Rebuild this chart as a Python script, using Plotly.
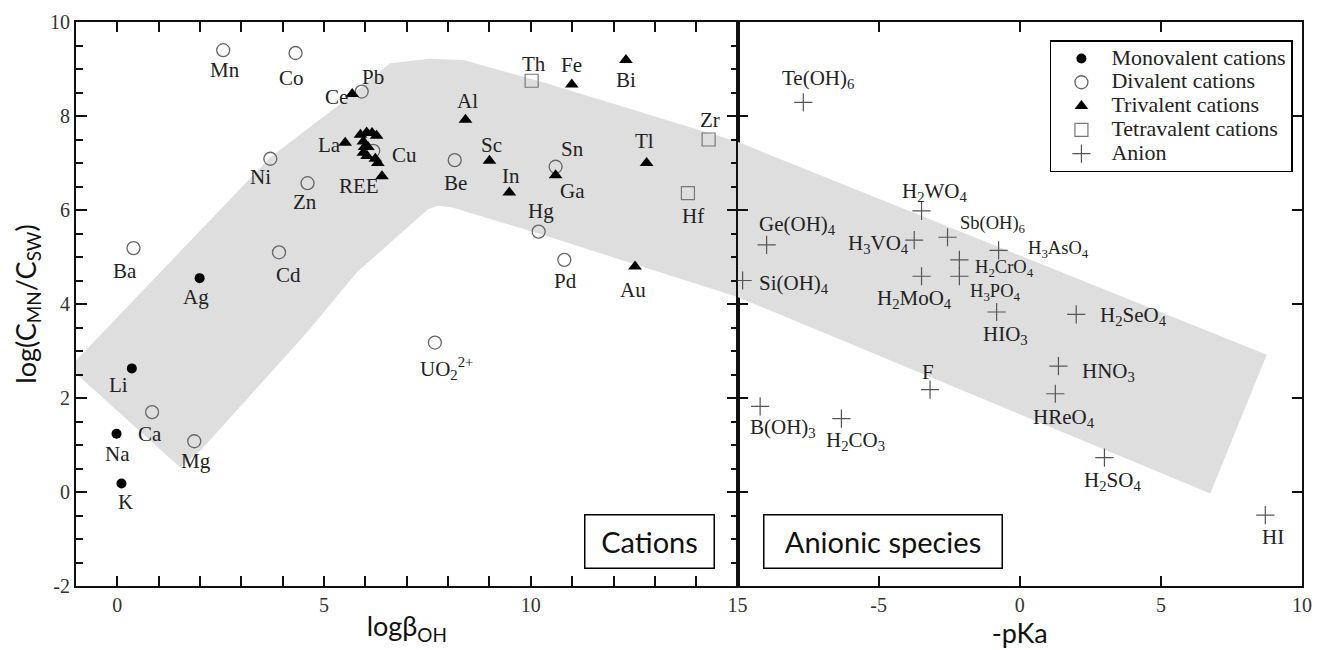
import plotly.graph_objects as go

# ---------------- data ----------------
MONO_NAMES = ["Ag", "Li", "Na", "K"]
MONO_X = [1.99, 0.35, -0.02, 0.10]
MONO_Y = [4.55, 2.63, 1.24, 0.18]

DI_NAMES = ["Mn", "Co", "Pb", "Ni", "Zn", "Ba", "Cd", "Cu", "Be", "Sn", "Hg", "Pd",
            "UO<sub>2</sub><sup>2+</sup>", "Ca", "Mg"]
DI_X = [2.56, 4.31, 5.91, 3.70, 4.60, 0.39, 3.91, 6.19, 8.16, 10.60, 10.19, 10.81, 7.68, 0.84, 1.86]
DI_Y = [9.40, 9.34, 8.52, 7.09, 6.57, 5.19, 5.10, 7.26, 7.06, 6.92, 5.54, 4.94, 3.18, 1.70, 1.08]

TRI_NAMES = ["Ce", "La", "", "", "", "", "", "", "", "", "", "", "", "REE",
             "Al", "Sc", "In", "Fe", "Bi", "Tl", "Ga", "Au"]
TRI_X = [5.68, 5.51, 5.88, 6.03, 6.16, 6.27, 5.95, 5.98, 6.06, 5.95, 6.04, 6.24, 6.30, 6.40,
         8.42, 9.00, 9.48, 10.99, 12.30, 12.80, 10.60, 12.52]
TRI_Y = [8.47, 7.43, 7.60, 7.65, 7.64, 7.58, 7.46, 7.34, 7.34, 7.22, 7.15, 7.09, 7.00, 6.72,
         7.92, 7.05, 6.37, 8.67, 9.19, 7.00, 6.74, 4.80]

TETRA_NAMES = ["Th", "Zr", "Hf"]
TETRA_X = [10.02, 14.30, 13.80]
TETRA_Y = [8.75, 7.50, 6.36]

ANION_NAMES = ["Te(OH)<sub>6</sub>", "H<sub>2</sub>WO<sub>4</sub>", "Ge(OH)<sub>4</sub>",
               "H<sub>3</sub>VO<sub>4</sub>", "Sb(OH)<sub>6</sub>", "H<sub>3</sub>AsO<sub>4</sub>",
               "H<sub>2</sub>CrO<sub>4</sub>", "H<sub>3</sub>PO<sub>4</sub>", "H<sub>2</sub>MoO<sub>4</sub>",
               "Si(OH)<sub>4</sub>", "HIO<sub>3</sub>", "H<sub>2</sub>SeO<sub>4</sub>", "HNO<sub>3</sub>",
               "F", "HReO<sub>4</sub>", "B(OH)<sub>3</sub>", "H<sub>2</sub>CO<sub>3</sub>",
               "H<sub>2</sub>SO<sub>4</sub>", "HI"]
ANION_X = [-7.67, -3.48, -8.97, -3.74, -2.56, -0.75, -2.14, -2.14, -3.48, -9.82, -0.82, 2.00,
           1.37, -3.18, 1.26, -9.20, -6.32, 3.00, 8.70]
ANION_Y = [8.29, 5.98, 5.26, 5.36, 5.42, 5.14, 4.94, 4.59, 4.59, 4.50, 3.83, 3.78,
           2.68, 2.18, 2.09, 1.82, 1.56, 0.73, -0.49]

# grey trend band (data coordinates of each panel)
BAND_LEFT_X = [-1.0, 3.70, 5.32, 6.60, 7.55, 8.37, 10.36, 15.0,
               15.0, 10.36, 8.12, 7.76, 7.52, 5.80, 4.60, 2.04, 1.52, -1.0]
BAND_LEFT_Y = [2.80, 7.12, 8.21, 9.12, 9.22, 9.19, 8.70, 7.45,
               4.15, 5.45, 6.05, 6.09, 6.02, 4.68, 3.41, 0.91, 0.52, 2.52]
BAND_RIGHT_X = [-10.0, 8.75, 6.75, -10.0]
BAND_RIGHT_Y = [7.45, 2.92, -0.03, 4.15]

Y_TICKS = [-2, 0, 2, 4, 6, 8, 10]
Y_TICK_TEXT = ["-2", "0", "2", "4", "6", "8", "10"]
X_TICKS = [0, 5, 10, 15]
X_TICK_TEXT = ["0", "5", "10", "15"]
X2_TICKS = [-5, 0, 5, 10]
X2_TICK_TEXT = ["-5", "0", "5", "10"]

LEGEND_NAMES = ["Monovalent cations", "Divalent cations", "Trivalent cations",
                "Tetravalent cations", "Anion"]

# ---------------- label placement (style): anchor, dx px (right), dy px (down) ----------------
PLACE = {
    "Ag": ("center", -4, 19), "Li": ("center", -13, 17), "Na": ("center", 1, 20), "K": ("center", 4, 18),
    "Mn": ("center", 2, 20), "Co": ("center", -4, 25), "Pb": ("center", 11, -15),
    "Ni": ("center", -10, 18), "Zn": ("center", -3, 19), "Ba": ("center", -8, 23),
    "Cd": ("center", 9, 23), "Cu": ("left", 17, 4), "Be": ("center", 1, 23), "Sn": ("center", 17, -18),
    "Hg": ("center", 2, -21), "Pd": ("center", 1, 21), "UO<sub>2</sub><sup>2+</sup>": ("center", 12, 26),
    "Ca": ("center", -2, 22), "Mg": ("center", 2, 20),
    "Ce": ("right", -2, 3), "La": ("right", -2, 2), "REE": ("center", -23, 10), "Al": ("center", 2, -19),
    "Sc": ("center", 2, -16), "In": ("center", 2, -17), "Fe": ("center", 0, -20), "Bi": ("center", 0, 20),
    "Tl": ("center", -2, -22), "Ga": ("center", 17, 16), "Au": ("center", -2, 24),
    "Th": ("center", 2, -17), "Zr": ("center", 1, -20), "Hf": ("center", 5, 23),
    "Te(OH)<sub>6</sub>": ("left", -23, -23), "H<sub>2</sub>WO<sub>4</sub>": ("left", -22, -19),
    "Ge(OH)<sub>4</sub>": ("left", -10, -20), "H<sub>3</sub>VO<sub>4</sub>": ("right", -3, 4),
    "Sb(OH)<sub>6</sub>": ("left", 10, -13), "H<sub>3</sub>AsO<sub>4</sub>": ("left", 27, -1),
    "H<sub>2</sub>CrO<sub>4</sub>": ("left", 14, 9), "H<sub>3</sub>PO<sub>4</sub>": ("left", 9, 16),
    "H<sub>2</sub>MoO<sub>4</sub>": ("left", -47, 23), "Si(OH)<sub>4</sub>": ("left", 14, 3),
    "HIO<sub>3</sub>": ("left", -16, 23), "H<sub>2</sub>SeO<sub>4</sub>": ("left", 22, 2),
    "HNO<sub>3</sub>": ("left", 22, 6), "F": ("center", -2, -18), "HReO<sub>4</sub>": ("left", -24, 24),
    "B(OH)<sub>3</sub>": ("left", -12, 22), "H<sub>2</sub>CO<sub>3</sub>": ("left", -17, 22),
    "H<sub>2</sub>SO<sub>4</sub>": ("left", -22, 23), "HI": ("center", 8, 22),
}
SMALL_LABELS = {"Sb(OH)<sub>6</sub>", "H<sub>3</sub>AsO<sub>4</sub>", "H<sub>2</sub>CrO<sub>4</sub>",
                "H<sub>3</sub>PO<sub>4</sub>"}

SERIF = "Liberation Serif, Times New Roman, serif"
SANS = "Lato, Open Sans, sans-serif"
TXT = "#222222"


def legend_label(name):
    # legend rows are spaced by the legend font size; the visible text is enlarged inline
    return '<span style="font-size:22px">' + name + "</span>"


fig = go.Figure()

# bands
fig.add_trace(go.Scatter(x=BAND_LEFT_X, y=BAND_LEFT_Y, fill="toself", fillcolor="#dedede",
                         line=dict(width=0), mode="lines", hoverinfo="skip", showlegend=False,
                         xaxis="x", yaxis="y"))
fig.add_trace(go.Scatter(x=BAND_RIGHT_X, y=BAND_RIGHT_Y, fill="toself", fillcolor="#dedede",
                         line=dict(width=0), mode="lines", hoverinfo="skip", showlegend=False,
                         xaxis="x2", yaxis="y2"))

fig.add_trace(go.Scatter(x=MONO_X, y=MONO_Y, mode="markers", name=legend_label(LEGEND_NAMES[0]),
                         marker=dict(symbol="circle", size=10, color="black"),
                         xaxis="x", yaxis="y"))
fig.add_trace(go.Scatter(x=DI_X, y=DI_Y, mode="markers", name=legend_label(LEGEND_NAMES[1]),
                         marker=dict(symbol="circle-open", size=13, color="#666666",
                                     line=dict(width=1.3, color="#666666")),
                         xaxis="x", yaxis="y"))
fig.add_trace(go.Scatter(x=TRI_X, y=TRI_Y, mode="markers", name=legend_label(LEGEND_NAMES[2]),
                         marker=dict(symbol="triangle-up", size=12, color="black"),
                         xaxis="x", yaxis="y"))
fig.add_trace(go.Scatter(x=TETRA_X, y=TETRA_Y, mode="markers", name=legend_label(LEGEND_NAMES[3]),
                         marker=dict(symbol="square-open", size=13, color="#777777",
                                     line=dict(width=1.2, color="#777777")),
                         xaxis="x", yaxis="y"))
fig.add_trace(go.Scatter(x=ANION_X, y=ANION_Y, mode="markers", name=legend_label(LEGEND_NAMES[4]),
                         marker=dict(symbol="cross-thin", size=13, color="#555555",
                                     line=dict(width=1.2, color="#555555")),
                         xaxis="x2", yaxis="y2"))

annotations = []


def add_labels(names, xs, ys, xref, yref, size):
    for n, x, y in zip(names, xs, ys):
        if not n:
            continue
        anchor, dx, dy = PLACE.get(n, ("center", 0, 18))
        fs = 18.5 if n in SMALL_LABELS else size
        annotations.append(dict(x=x, y=y, xref=xref, yref=yref, text=n, showarrow=False,
                                xanchor=anchor, xshift=dx, yshift=-dy,
                                font=dict(family=SERIF, size=fs, color=TXT)))


add_labels(MONO_NAMES, MONO_X, MONO_Y, "x", "y", 21)
add_labels(DI_NAMES, DI_X, DI_Y, "x", "y", 21)
add_labels(TRI_NAMES, TRI_X, TRI_Y, "x", "y", 21)
add_labels(TETRA_NAMES, TETRA_X, TETRA_Y, "x", "y", 21)
add_labels(ANION_NAMES, ANION_X, ANION_Y, "x2", "y2", 21)

annotations.append(dict(x=12.88, y=-1.05, xref="x", yref="y", text="Cations", showarrow=False,
                        width=126, height=50, borderpad=1, bordercolor="black", borderwidth=1.5,
                        font=dict(family=SANS, size=29, color="#111111")))
annotations.append(dict(x=-4.85, y=-1.05, xref="x2", yref="y2", text="Anionic species",
                        showarrow=False, width=235, height=50, borderpad=1,
                        bordercolor="black", borderwidth=1.5,
                        font=dict(family=SANS, size=29, color="#111111")))

SPLIT = 0.5396
axis_common = dict(showgrid=False, zeroline=False, showline=True, linecolor="#111111",
                   linewidth=2, mirror="ticks", ticks="inside", tickcolor="#111111",
                   tickwidth=1.5, tickfont=dict(family=SERIF, size=20, color="#333333"))

fig.update_layout(
    width=1323, height=650,
    margin=dict(l=76, r=11, t=18, b=64),
    paper_bgcolor="white", plot_bgcolor="white",
    showlegend=True,
    legend=dict(x=0.9926, y=0.968, xanchor="right", yanchor="top",
                bordercolor="black", borderwidth=1.5, bgcolor="white",
                font=dict(family=SERIF, size=16, color=TXT), itemsizing="trace",
                itemwidth=50, tracegroupgap=0),
    annotations=annotations,
    xaxis=dict(domain=[0, SPLIT], range=[-1, 15], tickvals=X_TICKS, ticktext=X_TICK_TEXT, ticklen=10,
               minor=dict(dtick=1, ticks="inside", ticklen=10, tickwidth=1.5, tickcolor="#111111"),
               title=dict(text="logβ<sub>OH</sub>", font=dict(family=SANS, size=27, color="#111111"),
                          standoff=2),
               anchor="y", **axis_common),
    yaxis=dict(domain=[0, 1], range=[-2, 10], tickvals=Y_TICKS, ticktext=Y_TICK_TEXT, ticklen=11,
               minor=dict(dtick=0.5, ticks="inside", ticklen=7, tickwidth=1.5, tickcolor="#111111"),
               title=dict(text="log(C<sub>MN</sub>/C<sub>SW</sub>)",
                          font=dict(family=SANS, size=27, color="#111111"), standoff=6),
               anchor="x", **axis_common),
    xaxis2=dict(domain=[SPLIT, 1], range=[-10, 10], tickvals=X2_TICKS, ticktext=X2_TICK_TEXT,
                ticklen=10,
                title=dict(text="-pKa", font=dict(family=SANS, size=27, color="#111111"), standoff=2),
                anchor="y2", **axis_common),
    yaxis2=dict(domain=[0, 1], range=[-2, 10], tickvals=Y_TICKS, ticklen=10,
                showticklabels=False, anchor="x2", **axis_common),
)

fig.write_html("out.html")
